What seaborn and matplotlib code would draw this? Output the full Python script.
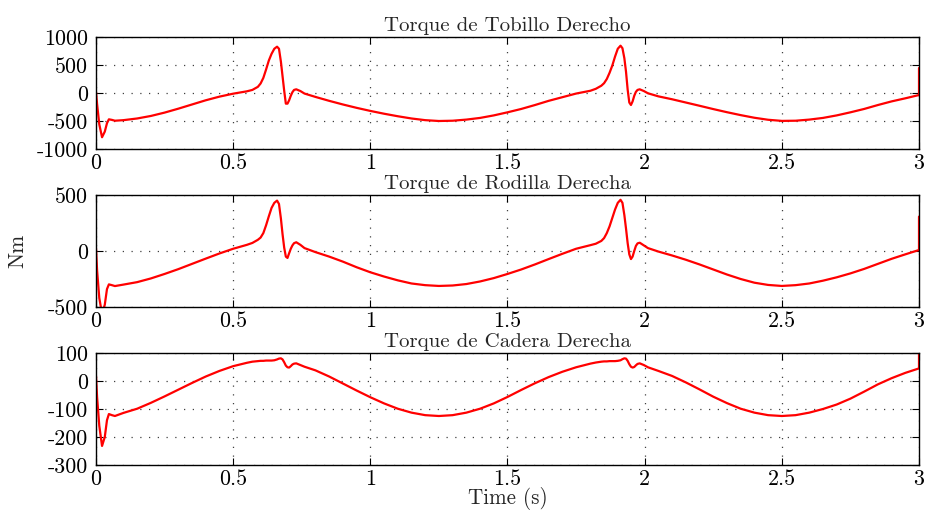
import matplotlib
matplotlib.use("Agg")
import matplotlib.pyplot as plt
import seaborn as sns
import pandas as pd

# ---- data ----
time_s = [0, 0.004, 0.012, 0.022, 0.032, 0.04, 0.047, 0.058, 0.069,
          0.1, 0.15, 0.2, 0.25, 0.3, 0.35, 0.4, 0.45, 0.5,
          0.55, 0.57, 0.59, 0.6, 0.61, 0.62, 0.63, 0.64, 0.65, 0.66,
          0.667, 0.674, 0.68, 0.686, 0.692, 0.698, 0.704, 0.71, 0.716, 0.722,
          0.73, 0.745, 0.76,
          0.8, 0.85, 0.9, 0.95, 1.0, 1.05, 1.1, 1.15, 1.2, 1.25,
          1.3, 1.35, 1.4, 1.45, 1.5, 1.55, 1.6, 1.65, 1.7, 1.75,
          1.802, 1.822, 1.842, 1.852, 1.862, 1.872, 1.882, 1.892, 1.902, 1.912,
          1.919, 1.926, 1.932, 1.938, 1.944, 1.95, 1.956, 1.962, 1.968, 1.974,
          1.982, 1.997, 2.012,
          2.05, 2.1, 2.15, 2.2, 2.25, 2.3, 2.35, 2.4, 2.45, 2.5,
          2.55, 2.6, 2.65, 2.7, 2.75, 2.8, 2.85, 2.9, 2.95, 3.0,
          3.0]

ankle_torque = [20, -200, -560, -790, -690, -540, -470, -480, -495,
                -485, -455, -410, -350, -280, -205, -130, -65, -12,
                30, 55, 110, 170, 270, 420, 580, 700, 790, 827,
                790, 560, 300, 40, -190, -190, -130, -50, 15, 55,
                66, 35, -10,
                -70, -140, -205, -265, -320, -370, -415, -455, -485, -500,
                -495, -475, -445, -400, -345, -285, -215, -140, -75, -10,
                40, 75, 130, 175, 250, 360, 490, 650, 790, 845,
                800, 620, 380, 60, -170, -214, -150, -50, 20, 55,
                66, 35, -5,
                -60, -112, -170, -228, -287, -343, -395, -442, -478, -498,
                -495, -475, -445, -400, -345, -285, -215, -150, -95, -36,
                446]

knee_torque = [25, -175, -420, -560, -480, -340, -298, -305, -313,
               -300, -278, -245, -205, -162, -115, -68, -22, 20,
               55, 72, 100, 120, 160, 230, 310, 385, 430, 450,
               420, 290, 150, 30, -50, -62, -20, 20, 50, 70,
               78, 55, 26,
               -10, -50, -95, -145, -190, -228, -262, -290, -305, -312,
               -308, -295, -272, -242, -205, -165, -120, -72, -25, 20,
               52, 65, 90, 115, 160, 220, 295, 370, 430, 457,
               430, 320, 200, 70, -30, -72, -50, 0, 45, 68,
               74, 50, 26,
               -5, -40, -78, -120, -165, -210, -250, -283, -303, -312,
               -305, -290, -265, -235, -200, -160, -115, -70, -30, 9,
               307]

hip_torque = [18, -58, -160, -232, -200, -140, -118, -122, -125,
              -114, -99, -78, -55, -31, -7, 16, 36, 53,
              65, 69, 71, 72, 72, 73, 73, 73, 74, 77,
              80, 81, 77, 67, 55, 49, 48, 53, 59, 62,
              63, 57, 51,
              38, 16, -9, -34, -58, -80, -99, -113, -122, -125,
              -122, -113, -99, -80, -57, -32, -8, 14, 33, 49,
              62, 66, 69, 70, 70, 71, 71, 71, 72, 74,
              78, 81, 80, 72, 60, 51, 48, 50, 56, 61,
              63, 57, 49,
              36, 18, -5, -30, -56, -79, -99, -113, -122, -125,
              -122, -113, -100, -84, -63, -38, -12, 10, 29, 45,
              110]

titles = ["Torque de Tobillo Derecho", "Torque de Rodilla Derecha", "Torque de Cadera Derecha"]
yticks_list = [[-1000, -500, 0, 500, 1000], [-500, 0, 500], [-300, -200, -100, 0, 100]]
ylims = [(-1000, 1000), (-500, 500), (-300, 100)]
xticks = [0, 0.5, 1, 1.5, 2, 2.5, 3]
xticklabels = ["0", "0.5", "1", "1.5", "2", "2.5", "3"]
series = [ankle_torque, knee_torque, hip_torque]

# ---- style ----
sns.set_style("ticks")
plt.rcParams["font.family"] = ["cmr10", "DejaVu Serif"]
plt.rcParams["axes.unicode_minus"] = False
plt.rcParams["mathtext.fontset"] = "cm"
plt.rcParams["axes.formatter.use_mathtext"] = True

fig = plt.figure(figsize=(9.29, 5.11), dpi=100)
left, width = 96 / 929, 823 / 929
tops = [37, 195, 353]
h = 112 / 511

for i in range(3):
    bottom = 1 - (tops[i] + 112) / 511
    ax = fig.add_axes([left, bottom, width, h])
    df = pd.DataFrame({"t": time_s, "v": series[i]})
    sns.lineplot(data=df, x="t", y="v", ax=ax, color="red", lw=1.6,
                 estimator=None, sort=False, legend=False)
    ax.set_xlim(0, 3)
    ax.set_ylim(*ylims[i])
    ax.set_yticks(yticks_list[i])
    ax.set_yticklabels([str(v) for v in yticks_list[i]])
    ax.set_xticks(xticks)
    ax.set_xticklabels(xticklabels)
    ax.set_xlabel("")
    ax.set_ylabel("")
    ax.tick_params(axis="y", pad=6)
    ax.tick_params(axis="x", pad=3)
    ax.tick_params(direction="in", length=5, width=0.8, top=True, right=True,
                   labelsize=15.8, colors="black")
    ax.grid(True, linestyle=(0, (1, 6)), color="0.25", linewidth=0.9)
    for s in ax.spines.values():
        s.set_linewidth(1.0)
        s.set_color("black")
    ax.set_title(titles[i], fontsize=15, pad=4)
    if i == 2:
        ax.set_xlabel("Time (s)", fontsize=15.2, labelpad=-1)

fig.text(18 / 929, 1 - 251 / 511, "Nm", rotation=90, fontsize=15.5,
         ha="center", va="center")

fig.savefig("out.png", dpi=100)
